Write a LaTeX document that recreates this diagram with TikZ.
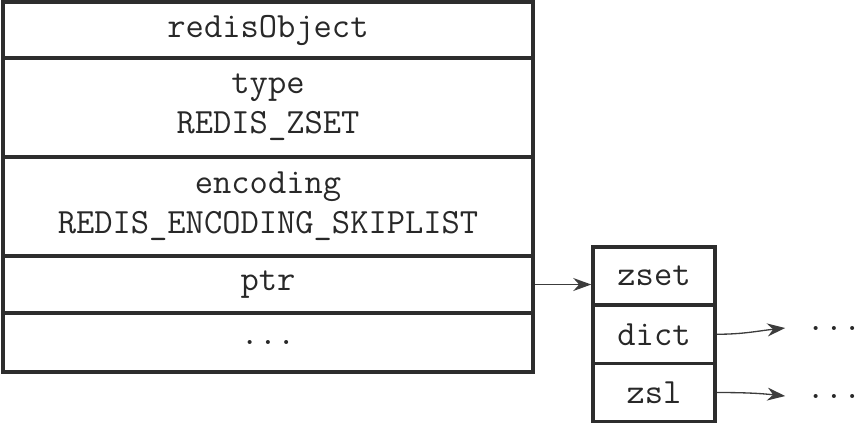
\documentclass[tikz,border=0pt]{standalone}
\usepackage{fontspec}
\usepackage{tikz}
\usepackage{xcolor}
\usetikzlibrary{arrows.meta, calc}
\definecolor{boxline}{RGB}{45,45,45}
\definecolor{linkgray}{RGB}{60,60,60}
\definecolor{textgray}{RGB}{40,40,40}
\newcommand{\redisfont}{\fontsize{20.2}{22.7}\selectfont\ttfamily}

\begin{document}
\begin{tikzpicture}[
    field/.style={draw=boxline, line width=2pt, minimum width=10.6cm,
                  inner sep=0pt, align=center, text=textgray, font=\redisfont},
    member/.style={draw=boxline, line width=2pt, minimum width=2.44cm,
                   minimum height=1.165cm, inner sep=0pt, text=textgray, font=\redisfont},
    etc/.style={inner xsep=0.42cm, inner ysep=0pt, text=textgray, font=\redisfont},
    link/.style={-{Stealth[length=0.36cm, width=0.26cm]}, linkgray, line width=0.75pt}
]
\useasboundingbox (0,0) rectangle (17.24,-8.56);
% redisObject
\node[field, minimum height=1.12cm] (head) at (5.36,-0.60) {redisObject};
\node[field, minimum height=1.98cm] (type) at (5.36,-2.15) {type\\REDIS\_ZSET};
\node[field, minimum height=1.98cm] (encoding) at (5.36,-4.13)
    {encoding\\REDIS\_ENCODING\_SKIPLIST};
\node[field, minimum height=1.14cm] (ptr) at (5.36,-5.69) {ptr};
\node[field, minimum height=1.18cm] (rest) at (5.36,-6.85) {...};
% zset struct
\foreach \name [count=\i] in {zset,dict,zsl}{
    \node[member] (\name) at (13.08,{-5.52-(\i-1)*1.165}) {\name};
}
% ptr -> zset
\coordinate (ptrend) at (ptr.east -| zset.west);
\draw[link] (ptr.east) -- (ptrend);
% dict / zsl -> ...
\node[etc] (dictmore) at (16.68,-6.56) {...};
\node[etc] (zslmore) at (16.68,-7.92) {...};
\draw[link] (dict.east) to[out=0, in=186] (dictmore.west);
\draw[link] (zsl.east) to[out=0, in=174] (zslmore.west);
\end{tikzpicture}
\end{document}
